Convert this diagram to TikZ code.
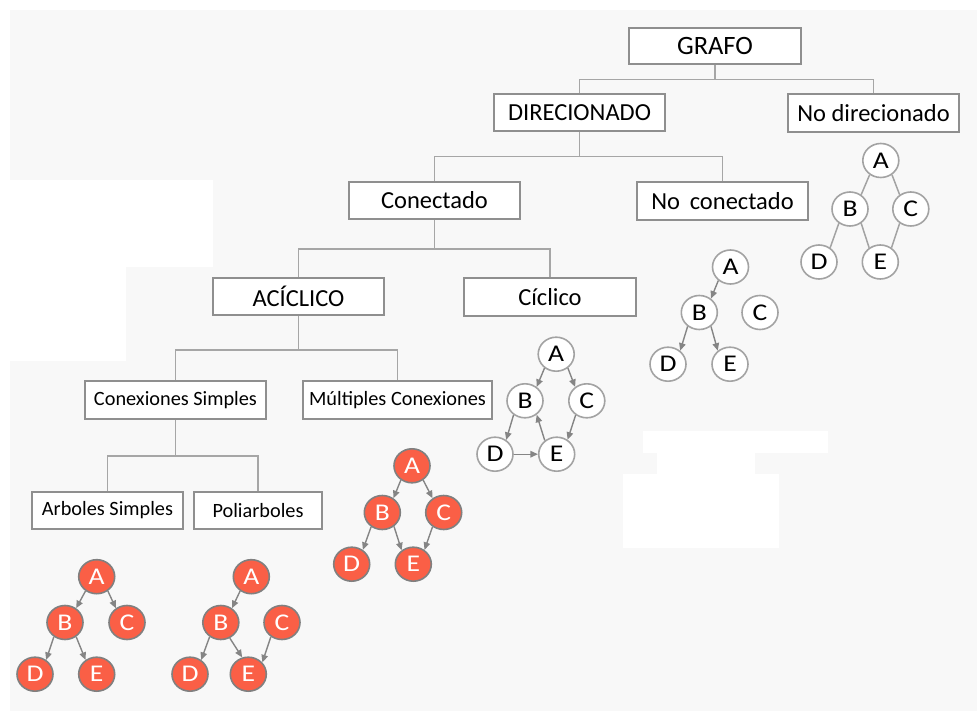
\documentclass[tikz,border=0pt]{standalone}
\usepackage{fontspec}
\usepackage{graphicx}
\setmainfont{Carlito}
\usetikzlibrary{shapes.geometric,arrows.meta}
\definecolor{bggray}{HTML}{F8F8F8}
\definecolor{boxline}{HTML}{8F8F8F}
\definecolor{treeline}{HTML}{A6A6A6}
\definecolor{nodered}{HTML}{FA5F46}
\definecolor{ringgray}{HTML}{A3A3A3}
\definecolor{ringdark}{HTML}{808080}
\definecolor{arrowgray}{HTML}{858585}
\newcommand{\wideletter}[1]{\scalebox{1.15}[1]{#1}}
\begin{document}
\begin{tikzpicture}[x=1pt,y=-1pt,
  catbox/.style={draw=boxline, line width=1.5pt, fill=white, inner sep=0pt,
    font=\fontsize{24.5}{29}\selectfont},
  topbox/.style={catbox, font=\fontsize{26.5}{30}\selectfont},
  smallbox/.style={catbox, font=\fontsize{20.3}{24}\selectfont},
  conn/.style={draw=treeline, line width=1.5pt},
  gnode/.style={ellipse, draw=ringgray, line width=1.6pt, fill=white,
    minimum width=36, minimum height=34, inner sep=0pt,
    font=\fontsize{24}{26}\selectfont},
  rnode/.style={gnode, draw=ringdark, fill=nodered, text=white},
  ed/.style={draw=ringgray, line width=1.5pt},
  arr/.style={draw=arrowgray, line width=1.4pt, -{Triangle[length=7.5pt,width=6.5pt]}}
]
\useasboundingbox (0,0) rectangle (977,711);
\fill[white] (0,0) rectangle (977,711);
\fill[bggray] (10,10) rectangle (977,711);
\fill[white] (10,180) rectangle (213,267);
\fill[white] (10,267) rectangle (126,361);
\fill[white] (643,431) rectangle (828,453);
\fill[white] (657,453) rectangle (755,474);
\fill[white] (623,474) rectangle (779,548);

% category boxes
\node[topbox, minimum width=172, minimum height=36] (grafo) at (715,46) {GRAFO};
\node[catbox, minimum width=171, minimum height=37] (dir) at (579.5,112.5) {DIRECIONADO};
\node[catbox, minimum width=171, minimum height=38] (nodir) at (873.5,113) {No direcionado};
\node[catbox, minimum width=171, minimum height=37] (con) at (434.5,200.5) {Conectado};
\node[catbox, minimum width=171, minimum height=38] (nocon) at (722.5,201) {No\hspace{0.4em}conectado};
\node[catbox, minimum width=171, minimum height=37] (acic) at (298.5,296.5) {ACÍCLICO};
\node[catbox, minimum width=172, minimum height=38] (cicl) at (550,297) {Cíclico};
\node[smallbox, minimum width=181, minimum height=38] (csim) at (175.5,400) {Conexiones Simples};
\node[smallbox, minimum width=189, minimum height=38] (mult) at (397.5,400) {Múltiples Conexiones};
\node[smallbox, minimum width=151, minimum height=37] (arb) at (107.5,510.5) {Arboles Simples};
\node[smallbox, minimum width=128, minimum height=37] (poli) at (258,510.5) {Poliarboles};

% tree connectors
\draw[conn] (grafo.south) -- ++(0,15) coordinate (bus1);
\draw[conn] (bus1) -| (dir.north);
\draw[conn] (bus1) -| (nodir.north);
\draw[conn] (dir.south) -- ++(0,25) coordinate (bus2);
\draw[conn] (bus2) -| (con.north);
\draw[conn] (bus2) -| (nocon.north);
\draw[conn] (con.south) -- ++(0,29.5) coordinate (bus3);
\draw[conn] (bus3) -| (acic.north);
\draw[conn] (bus3) -| (cicl.north);
\draw[conn] (acic.south) -- ++(0,34) coordinate (bus4);
\draw[conn] (bus4) -| (csim.north);
\draw[conn] (bus4) -| (mult.north);
\draw[conn] (csim.south) -- ++(0,36) coordinate (bus5);
\draw[conn] (bus5) -| (arb.north);
\draw[conn] (bus5) -| (poli.north);

% undirected graph
\node[gnode] (ua) at (880.8,160.5) {\wideletter{A}};
\node[gnode] (ub) at (850,209) {\wideletter{B}};
\node[gnode] (uc) at (910.8,209) {\wideletter{C}};
\node[gnode] (ud) at (819,262) {\wideletter{D}};
\node[gnode] (ue) at (880.3,262) {\wideletter{E}};
\draw[ed] (ua.232) -- (ub.52);
\draw[ed] (ua.308) -- (uc.128);
\draw[ed] (ub.232) -- (ud.52);
\draw[ed] (ub.308) -- (ue.128);
\draw[ed] (uc.232) -- (ue.52);

% not connected graph
\node[gnode] (na) at (730.5,267) {\wideletter{A}};
\node[gnode] (nb) at (699.3,312.5) {\wideletter{B}};
\node[gnode] (nc) at (760,312.5) {\wideletter{C}};
\node[gnode] (nd) at (668,364.2) {\wideletter{D}};
\node[gnode] (ne) at (730,364.2) {\wideletter{E}};
\draw[arr] (na.228) -- (nb.50);
\draw[arr] (nb.230) -- (nd.48);
\draw[arr] (nb.310) -- (ne.132);

% cyclic graph
\node[gnode] (ca) at (556.2,354.2) {\wideletter{A}};
\node[gnode] (cb) at (525,400.8) {\wideletter{B}};
\node[gnode] (cc) at (586.8,400.8) {\wideletter{C}};
\node[gnode] (cd) at (495,454.2) {\wideletter{D}};
\node[gnode] (ce) at (556.7,454.2) {\wideletter{E}};
\draw[arr] (ca.230) -- (cb.50);
\draw[arr] (ca.310) -- (cc.130);
\draw[arr] (cb.231) -- (cd.52);
\draw[arr] (cd.east) -- (ce.west);
\draw[arr] (ce.131) -- (cb.310);
\draw[arr] (cc.232) -- (ce.53);

% multiple connections (red)
\node[rnode] (ma) at (412,465.8) {\wideletter{A}};
\node[rnode] (mb) at (382.3,512.5) {\wideletter{B}};
\node[rnode] (mc) at (443.7,512.5) {\wideletter{C}};
\node[rnode] (md) at (351.7,564.2) {\wideletter{D}};
\node[rnode] (me) at (413.3,564.2) {\wideletter{E}};
\draw[arr] (ma.232) -- (mb.52);
\draw[arr] (ma.308) -- (mc.128);
\draw[arr] (mb.232) -- (md.52);
\draw[arr] (mb.310) -- (me.130);
\draw[arr] (mc.232) -- (me.52);

% simple trees (red)
\node[rnode] (ta) at (96.7,576.7) {\wideletter{A}};
\node[rnode] (tb) at (65,622.5) {\wideletter{B}};
\node[rnode] (tc) at (127,622.5) {\wideletter{C}};
\node[rnode] (td) at (35,674.2) {\wideletter{D}};
\node[rnode] (te) at (96.7,674.2) {\wideletter{E}};
\draw[arr] (ta.232) -- (tb.52);
\draw[arr] (ta.308) -- (tc.128);
\draw[arr] (tb.232) -- (td.52);
\draw[arr] (tb.308) -- (te.128);

% polytrees (red)
\node[rnode] (pa) at (251.3,576.7) {\wideletter{A}};
\node[rnode] (pb) at (220.8,622.5) {\wideletter{B}};
\node[rnode] (pc) at (282,622.5) {\wideletter{C}};
\node[rnode] (pd) at (190,674.2) {\wideletter{D}};
\node[rnode] (pe) at (248.3,674.2) {\wideletter{E}};
\draw[arr] (pa.232) -- (pb.52);
\draw[arr] (pb.232) -- (pd.52);
\draw[arr] (pb.300) -- (pe.110);
\draw[arr] (pc.232) -- (pe.40);
\end{tikzpicture}
\end{document}
